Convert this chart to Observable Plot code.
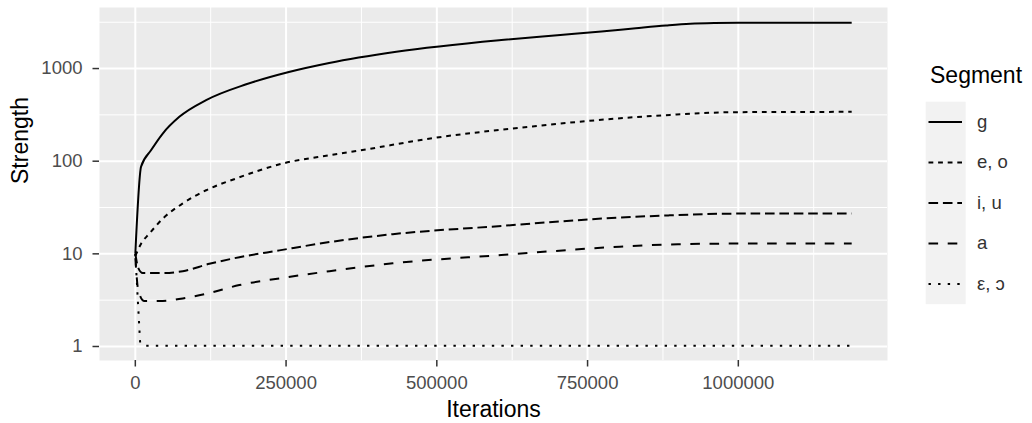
<!DOCTYPE html>
<html>
<head>
<meta charset="utf-8">
<script src="https://cdn.jsdelivr.net/npm/d3@7"></script>
<script src="https://cdn.jsdelivr.net/npm/@observablehq/plot@0.6"></script>
<style>
  html, body { margin: 0; padding: 0; background: white; }
  #wrap { position: relative; width: 1032px; height: 423px; font-family: "Liberation Sans", Arial, sans-serif; }
  #legend { position: absolute; left: 0; top: 0; }
</style>
</head>
<body>
<div id="wrap"></div>
<script>
// ---- data ----
const segments = ["g", "e, o", "i, u", "a", "ε, ɔ"];

const gIter     = [0, 9500, 26000, 45500, 73000, 117400, 184000, 253000, 321500, 432800, 607000, 700000, 773000, 830000, 880000, 920000, 960000, 1000000, 1188000];
const gStrength = [10, 87, 131, 199, 301, 456, 676, 912, 1148, 1517, 2030, 2290, 2510, 2720, 2910, 3040, 3100, 3120, 3130];

const eoIter     = [0, 10000, 23200, 45500, 78700, 117400, 167000, 244700, 322000, 361000, 500000, 650000, 779000, 872700, 994000, 1188000];
const eoStrength = [9.5, 13, 16.5, 24, 35, 48.6, 65, 94.5, 116, 127, 180, 234, 282, 312, 338, 341];

const iuIter     = [0, 5000, 12300, 45500, 78700, 122800, 172600, 239000, 322000, 427000, 607000, 773000, 884000, 1005000, 1188000];
const iuStrength = [10, 7, 6.2, 6.2, 6.5, 7.8, 9.2, 10.9, 13.4, 16.3, 20, 24, 26, 27.2, 27.2];

const aIter     = [0, 5000, 15000, 45500, 78700, 117400, 172600, 244700, 322000, 427000, 607000, 790000, 900000, 1005000, 1188000];
const aStrength = [9, 4, 3.09, 3.1, 3.3, 3.7, 4.6, 5.5, 6.5, 7.9, 9.7, 11.8, 12.7, 12.9, 12.9];

const epsIter     = [0, 8000, 15000, 1188000];
const epsStrength = [10, 1.1, 1.02, 1.02];

const xTicks = [0, 250000, 500000, 750000, 1000000];
const xMinor = [125000, 375000, 625000, 875000, 1125000];
const yTicks = [1, 10, 100, 1000];
const yTickLabels = ["1", "10", "100", "1000"];
const yMinor = [Math.sqrt(10), Math.sqrt(1000), Math.sqrt(100000), Math.sqrt(10000000)];

// ---- build table ----
const seriesIter = [gIter, eoIter, iuIter, aIter, epsIter];
const seriesStrength = [gStrength, eoStrength, iuStrength, aStrength, epsStrength];
const rows = [];
segments.forEach((s, i) => {
  seriesIter[i].forEach((it, j) => rows.push({segment: s, iter: it, strength: seriesStrength[i][j]}));
});

// ggplot default linetypes: solid, 22, 42, 44, 13
const unit = 2.4;
const dashes = [null, [2, 2], [4, 2], [4, 4], [1, 3]].map(d => d ? d.map(v => v * unit).join(",") : null);

const lineMarks = segments.map((s, i) =>
  Plot.line(rows.filter(r => r.segment === s), {
    x: "iter", y: "strength",
    curve: i === 4 ? "linear" : "monotone-x",
    stroke: "black", strokeWidth: 2,
    strokeLinecap: "butt", strokeLinejoin: "round",
    strokeDasharray: dashes[i] || undefined
  })
);

const chart = Plot.plot({
  width: 1032, height: 423,
  marginLeft: 99, marginRight: 145, marginTop: 7, marginBottom: 63,
  x: {domain: [-59400, 1247400]},
  y: {type: "log", domain: [0.706, 4560]},
  style: {fontFamily: "'Liberation Sans', Arial, sans-serif", background: "white", overflow: "visible"},
  marks: [
    Plot.frame({fill: "#EBEBEB", stroke: null}),
    Plot.gridX(xMinor, {stroke: "white", strokeOpacity: 1, strokeWidth: 1}),
    Plot.gridY(yMinor, {stroke: "white", strokeOpacity: 1, strokeWidth: 1}),
    Plot.gridX(xTicks, {stroke: "white", strokeOpacity: 1, strokeWidth: 2}),
    Plot.gridY(yTicks, {stroke: "white", strokeOpacity: 1, strokeWidth: 2}),
    ...lineMarks,
    Plot.axisX({ticks: xTicks, tickFormat: () => "", label: null, tickSize: 6.5, stroke: "#333", strokeWidth: 1.5}),
    Plot.axisY({ticks: yTicks, tickFormat: () => "", label: null, tickSize: 6.5, stroke: "#333", strokeWidth: 1.5}),
    Plot.text(xTicks, {x: d => d, text: d => String(d), frameAnchor: "bottom", lineAnchor: "bottom", dy: 28, fontSize: 18.5, fill: "#4D4D4D"}),
    Plot.text(yTicks, {y: d => d, text: (d, i) => yTickLabels[i], frameAnchor: "left", textAnchor: "end", dx: -17, fontSize: 18.5, fill: "#4D4D4D"}),
    Plot.text(["Iterations"], {frameAnchor: "bottom", lineAnchor: "bottom", dy: 56, fontSize: 23, fill: "black"}),
    Plot.text(["Strength"], {frameAnchor: "left", lineAnchor: "bottom", rotate: -90, dx: -72, fontSize: 23, fill: "black"})
  ]
});

const wrap = document.getElementById("wrap");
wrap.appendChild(chart);

// ---- legend ----
const lg = d3.select(wrap).append("svg")
  .attr("id", "legend")
  .attr("width", 1032).attr("height", 423)
  .style("font-family", "'Liberation Sans', Arial, sans-serif");

lg.append("text").attr("x", 930).attr("y", 83).attr("font-size", 23).attr("fill", "black").text("Segment");

const keyX = 925.7, keyW = 40, keyY = 101.7, keyH = 40.5;
lg.append("rect").attr("x", keyX).attr("y", keyY).attr("width", keyW).attr("height", keyH * segments.length).attr("fill", "#F2F2F2");

segments.forEach((s, i) => {
  const cy = keyY + keyH * i + keyH / 2;
  const ln = lg.append("line")
    .attr("x1", 928.5).attr("x2", 962).attr("y1", cy).attr("y2", cy)
    .attr("stroke", "black").attr("stroke-width", 2).attr("stroke-linecap", "butt");
  if (dashes[i]) ln.attr("stroke-dasharray", dashes[i]);
  lg.append("text").attr("x", 977).attr("y", cy + 6).attr("font-size", 18.5).attr("fill", "#333").text(s);
});
</script>
</body>
</html>
